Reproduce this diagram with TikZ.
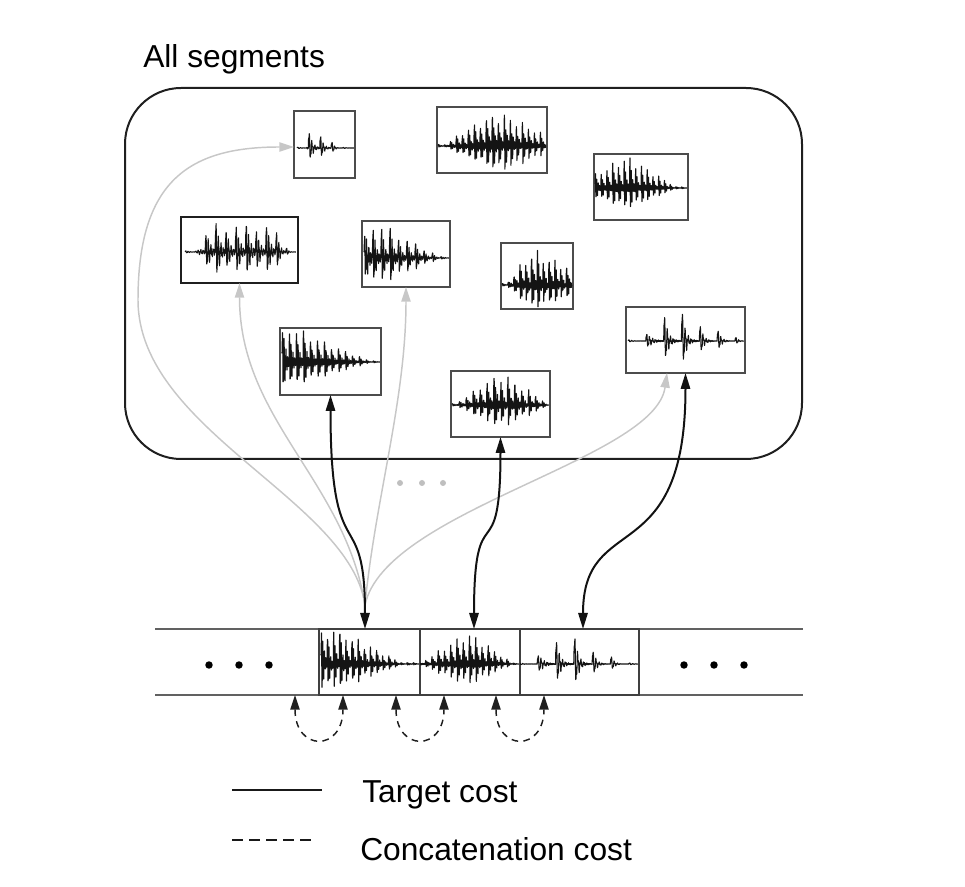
\documentclass[tikz,border=0pt]{standalone}
\usepackage{fontspec}
\setmainfont{Liberation Sans}
\usetikzlibrary{arrows.meta,calc}

\pgfkeys{/wv/.cd,
 x0/.store in=\wvxa, x1/.store in=\wvxb, y/.store in=\wvy, A/.store in=\wvA,
 N/.store in=\wvN, k/.store in=\wvk, o/.store in=\wvo,
 s/.store in=\wvs, c1/.store in=\wvca, c2/.store in=\wvcb, e/.store in=\wve,
 fl/.store in=\wvfl, r/.store in=\wvr, b/.store in=\wvb}
\newcommand\wave[1]{%
 \pgfkeys{/wv/.cd, k=3, o=4, fl=0.04, r=0.25, #1}%
 \pgfmathtruncatemacro\wvS{4*(\wvxb-\wvxa)}%
 \begin{scope}
 \clip (\wvb.south west) rectangle (\wvb.north east);
 \draw[wavepen] plot[domain=0:1, samples=\wvS, variable=\t]
 ({\wvxa+\t*(\wvxb-\wvxa)},
 {\wvy-\wvA*max(\wvfl,min(1,min((\t-\wvs)/(\wvca-\wvs),(\wve-\t)/(\wve-\wvcb))))*(0.85+0.15*cos(487*floor(\t*\wvN)))*(exp(-\wvk*(\t*\wvN-floor(\t*\wvN)))*sin(360*\wvo*(\t*\wvN-floor(\t*\wvN)))+\wvr*exp(-0.5*\wvk*(\t*\wvN-floor(\t*\wvN)))*sin(360*2.6*\wvo*(\t*\wvN-floor(\t*\wvN))+90))});%
 \end{scope}%
}
\newcommand\wbx[6]{\node[wbox,#6,minimum width={(#4-#2)*0.75pt},minimum height={(#5-#3)*0.75pt}] (#1) at ({(#2+#4)/2},{(#3+#5)/2}) {};}

\begin{document}
\begin{tikzpicture}[x=0.75pt,y=-0.75pt,
 wavepen/.style={line width=0.8pt, draw=black!92, line join=round},
 wbox/.style={draw=black!70, line width=1pt, inner sep=0pt, outer sep=0pt, rectangle, fill=white},
 thickbox/.style={draw=black!88, line width=1.8pt},
 segbox/.style={draw=black!75, line width=1pt, fill=none},
 pool/.style={draw=black!88, line width=1.5pt, rounded corners=42pt, inner sep=0pt, outer sep=0pt, rectangle},
 tc/.style={draw=black!93, line width=1.5pt, {Triangle[length=12pt,width=7pt]}-{Triangle[length=12pt,width=7pt]}},
 gc/.style={draw=black!22, line width=1.1pt, -{Triangle[length=11pt,width=7pt]}},
 cc/.style={draw=black!88, line width=1.1pt, dash pattern=on 5pt off 4pt, {Triangle[length=11pt,width=7pt]}-{Triangle[length=11pt,width=7pt]}},
 strip/.style={draw=black!62, line width=1.5pt},
 bdot/.style={circle, fill=black, inner sep=0pt, minimum size=5.6pt},
 gdot/.style={circle, fill=black!25, inner sep=0pt, minimum size=4.5pt},
 lbl/.style={anchor=base west, inner sep=0pt, font=\fontsize{23.8pt}{28pt}\selectfont}]
\useasboundingbox (0,0) rectangle (965,887);

% title and pool
\node[lbl] (title) at (143,68) {All segments};
\node[pool, minimum width={677*0.75pt}, minimum height={371*0.75pt}] (pool) at (463.5,273.5) {};

% gray dots
\node[gdot] (gd1) at (400,483) {};
\node[gdot] (gd2) at (422,483) {};
\node[gdot] (gd3) at (443,483) {};

% strip
\coordinate (sl) at (155,629); \coordinate (sr) at (803,629);
\coordinate (bl) at (155,695); \coordinate (br) at (803,695);
\draw[strip] (sl) -- (sr);
\draw[strip] (bl) -- (br);
\wbx{s1}{319}{629}{420}{695}{segbox}
\wbx{s2}{420}{629}{520}{695}{segbox}
\wbx{s3}{520}{629}{639}{695}{segbox}

\node[bdot] (ld1) at (209,665) {};
\node[bdot] (ld2) at (239,665) {};
\node[bdot] (ld3) at (269,665) {};
\node[bdot] (rd1) at (684,665) {};
\node[bdot] (rd2) at (714,665) {};
\node[bdot] (rd3) at (744,665) {};

% segment boxes
\wbx{A}{294}{111}{355}{178}{}
\wbx{B}{437}{107}{547}{173}{}
\wbx{C}{594}{154}{688}{220}{}
\wbx{D}{181}{217}{298}{283}{thickbox}
\wbx{E}{362}{221}{450}{287}{}
\wbx{F}{501}{243}{573}{309}{}
\wbx{G}{280}{328}{381}{395}{}
\wbx{H}{451}{371}{550}{437}{}
\wbx{I}{626}{307}{745}{373}{}

% gray candidate arrows
\coordinate (g0) at (365,605);
\coordinate (Ib) at ($(I.south west)!0.345!(I.south east)$);
\draw[gc] (g0) .. controls (350,500) and (138,430) .. (138,300) .. controls (138,180) and (190,147) .. ($(A.west)+(0,2.5)$);
\draw[gc] (g0) .. controls (345,480) and (239.5,420) .. (D.south);
\draw[gc] (g0) .. controls (375,500) and (406,400) .. (E.south);
\draw[gc] (g0) .. controls (385,510) and (655,460) .. (Ib);

% target cost arrows
\coordinate (t1) at (365,629);
\coordinate (t2) at (474,629);
\coordinate (t3) at (583,629);
\draw[tc] (G.south) .. controls +(0,180) and +(0,-130) .. (t1);
\draw[tc] (H.south) .. controls +(0,140) and +(0,-140) .. (t2);
\draw[tc] (I.south) .. controls +(0,200) and +(0,-120) .. (t3);

% waveforms
\wave{b=A,x0=297,x1=354,y=148,A=25,N=5,s=0.15,c1=0.2,c2=0.3,e=0.75,k=4}
\wave{b=B,x0=438,x1=546,y=146,A=47,N=18,s=0.05,c1=0.5,c2=0.6,e=1.15}
\wave{b=C,x0=595,x1=687,y=188,A=38,N=16,s=-0.25,c1=0.3,c2=0.38,e=0.9}
\wave{b=D,x0=185,x1=296,y=252,A=35,N=11,s=0.1,c1=0.22,c2=0.78,e=0.95}
\wave{b=E,x0=364,x1=449,y=258,A=46,N=10,s=-0.05,c1=0.05,c2=0.2,e=0.92}
\wave{b=F,x0=502,x1=572,y=285,A=45,N=12,s=0.05,c1=0.42,c2=0.48,e=1.5}
\wave{b=G,x0=282,x1=380,y=362,A=48,N=14,s=-0.05,c1=0.02,c2=0.12,e=0.92}
\wave{b=H,x0=452,x1=549,y=405,A=40,N=14,s=0.02,c1=0.45,c2=0.55,e=1.02}
\wave{b=I,x0=628,x1=744,y=341,A=38,N=6.5,s=0.1,c1=0.3,c2=0.45,e=1.0,k=6,o=6}
\wave{b=s1,x0=321,x1=419,y=664,A=48,N=16,s=-0.05,c1=0.02,c2=0.15,e=0.85}
\wave{b=s2,x0=419,x1=519,y=664,A=38,N=16,s=0.0,c1=0.45,c2=0.55,e=0.95}
\wave{b=s3,x0=519,x1=638,y=664,A=35,N=6.5,s=0.1,c1=0.25,c2=0.45,e=0.92,k=6,o=6}

% concatenation cost arcs
\draw[cc] ($(s1.south west)+(-24,0)$) .. controls +(0,57) and +(0,57) .. ($(s1.south west)+(24,0)$);
\draw[cc] ($(s2.south west)+(-24,0)$) .. controls +(0,57) and +(0,57) .. ($(s2.south west)+(24,0)$);
\draw[cc] ($(s3.south west)+(-24,0)$) .. controls +(0,57) and +(0,57) .. ($(s3.south west)+(24,0)$);

% legend
\coordinate (l1a) at (232,790); \coordinate (l1b) at (322,790);
\coordinate (l2a) at (232,840); \coordinate (l2b) at (313,840);
\draw[line width=1.5pt, black!90] (l1a) -- (l1b);
\draw[line width=1.3pt, black!90, dash pattern=on 8.25pt off 4.5pt] (l2a) -- (l2b);
\node[lbl] (ltc) at (362,803) {Target cost};
\node[lbl] (lcc) at (360,860) {Concatenation cost};
\end{tikzpicture}
\end{document}
